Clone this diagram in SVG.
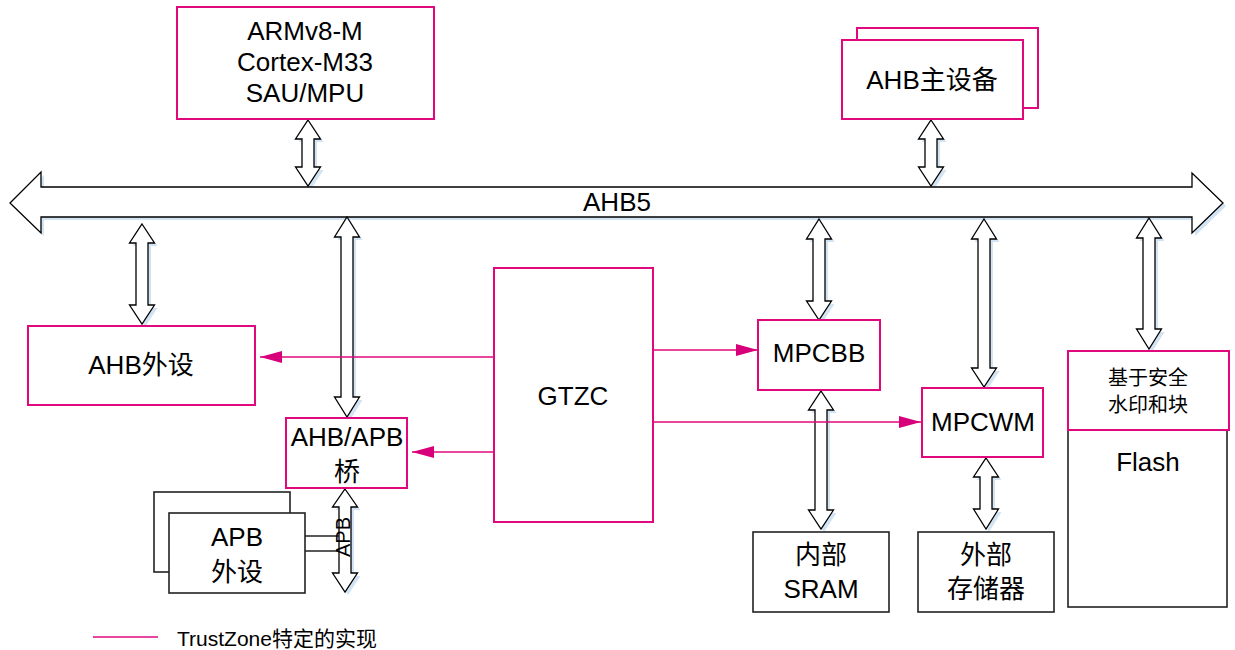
<svg xmlns="http://www.w3.org/2000/svg" xmlns:xlink="http://www.w3.org/1999/xlink" width="1235" height="650" viewBox="0 0 1235 650">
<style>
.t{font-family:"Liberation Sans","Noto Sans CJK SC",Arial,sans-serif;font-size:26px;fill:#000;text-anchor:middle}
.s{font-size:20px}
.pk{fill:#fff;stroke:#e0087c;stroke-width:2}
.bk{fill:#fff;stroke:#222;stroke-width:1.6}
.ln{stroke:#e0087c;stroke-width:1.3;fill:none}
.ar{fill:#fff;stroke:#000;stroke-width:1.3;stroke-linejoin:miter}
.sh{fill:#d2e3f3;stroke:none}
</style>
<defs>
<marker id="mk" markerUnits="userSpaceOnUse" markerWidth="22" markerHeight="12" refX="22" refY="6" orient="auto">
<path d="M0,0 L22,6 L0,12 Z" fill="#d8007a"/>
</marker>
<path id="bus" d="M10,203 L41,172 L41,187 L1192,187 L1192,173 L1223,203 L1192,233 L1192,217 L41,217 L41,233 Z"/>
<path id="a1" d="M308,120 L320.5,139 L314,139 L314,167 L320.5,167 L308,186 L295.5,167 L302,167 L302,139 L295.5,139 Z"/>
<path id="a2" d="M931,120 L943.5,139 L937,139 L937,167 L943.5,167 L931,186 L918.5,167 L925,167 L925,139 L918.5,139 Z"/>
<path id="a3" d="M142,224 L154.5,243 L148,243 L148,305 L154.5,305 L142,324 L129.5,305 L136,305 L136,243 L129.5,243 Z"/>
<path id="a4" d="M347,217 L359.5,237 L353,237 L353,397 L359.5,397 L347,417 L334.5,397 L341,397 L341,237 L334.5,237 Z"/>
<path id="a5" d="M819,219 L831.5,239 L825,239 L825,301 L831.5,301 L819,320 L806.5,301 L813,301 L813,239 L806.5,239 Z"/>
<path id="a6" d="M984,219 L996.5,239 L990,239 L990,368 L996.5,368 L984,387 L971.5,368 L978,368 L978,239 L971.5,239 Z"/>
<path id="a7" d="M1149,218 L1161.5,238 L1155,238 L1155,329 L1161.5,329 L1149,349 L1136.5,329 L1143,329 L1143,238 L1136.5,238 Z"/>
<path id="a8" d="M821,391 L833.5,410 L827,410 L827,510 L833.5,510 L821,529 L808.5,510 L815,510 L815,410 L808.5,410 Z"/>
<path id="a9" d="M986,458 L998.5,477 L992,477 L992,509 L998.5,509 L986,529 L973.5,509 L980,509 L980,477 L973.5,477 Z"/>
<path id="a10" d="M345,489 L357.5,507 L351,507 L351,573 L357.5,573 L345,592 L332.5,573 L339,573 L339,507 L332.5,507 Z"/>
</defs>
<rect width="1235" height="650" fill="#fff"/>

<g id="connectors">
<g id="shadows" transform="translate(3,3)" fill="#d2e3f3">
<use xlink:href="#bus"/><use xlink:href="#a1"/><use xlink:href="#a2"/><use xlink:href="#a3"/><use xlink:href="#a4"/><use xlink:href="#a5"/><use xlink:href="#a6"/><use xlink:href="#a7"/><use xlink:href="#a8"/><use xlink:href="#a9"/><use xlink:href="#a10"/>
</g>
<g id="bus-arrows" fill="#fff" stroke="#000" stroke-width="1.3">
<use id="ahb5" xlink:href="#bus"/>
<use xlink:href="#a1"/><use xlink:href="#a2"/><use xlink:href="#a3"/><use xlink:href="#a4"/><use xlink:href="#a5"/><use xlink:href="#a6"/><use xlink:href="#a7"/><use xlink:href="#a8"/><use xlink:href="#a9"/><use xlink:href="#a10"/>
</g>
<text class="t" x="617" y="211">AHB5</text>
<g id="pink-links">
<path class="ln" d="M494,357 L260,357" marker-end="url(#mk)"/>
<path class="ln" d="M494,452 L412,452" marker-end="url(#mk)"/>
<path class="ln" d="M653,350 L758,350" marker-end="url(#mk)"/>
<path class="ln" d="M653,422 L921,422" marker-end="url(#mk)"/>
</g>
<g id="apb-links" stroke="#222" stroke-width="1.3">
<line x1="305" y1="536" x2="339" y2="536"/>
<line x1="305" y1="551" x2="339" y2="551"/>
</g>
<text class="t s" transform="translate(350,537) rotate(-90)">APB</text>
</g>

<g id="cpu">
<rect class="pk" x="177" y="7" width="257" height="112"/>
<text class="t" x="305" y="40">ARMv8-M</text>
<text class="t" x="305" y="71">Cortex-M33</text>
<text class="t" x="305" y="102">SAU/MPU</text>
</g>

<g id="ahb-master">
<rect class="pk" x="857" y="28" width="181" height="80"/>
<rect class="pk" x="842" y="40" width="181" height="79"/>
<text class="t" x="932" y="89">AHB主设备</text>
</g>

<g id="ahb-periph">
<rect class="pk" x="28" y="326" width="227" height="79"/>
<text class="t" x="141" y="374">AHB外设</text>
</g>

<g id="bridge">
<rect class="pk" x="286" y="418" width="121" height="70"/>
<text class="t" x="347" y="446">AHB/APB</text>
<text class="t" x="347" y="481">桥</text>
</g>

<g id="apb-periph">
<rect class="bk" x="154" y="492" width="136" height="80"/>
<rect class="bk" x="169" y="513" width="136" height="80"/>
<text class="t" x="237" y="546">APB</text>
<text class="t" x="237" y="581">外设</text>
</g>

<g id="gtzc">
<rect class="pk" x="494" y="268" width="159" height="254"/>
<text class="t" x="573" y="405">GTZC</text>
</g>

<g id="mpcbb">
<rect class="pk" x="758" y="320" width="122" height="70"/>
<text class="t" x="819" y="362">MPCBB</text>
</g>

<g id="mpcwm">
<rect class="pk" x="922" y="388" width="121" height="69"/>
<text class="t" x="983" y="431">MPCWM</text>
</g>

<g id="sram">
<rect class="bk" x="753" y="532" width="136" height="80"/>
<text class="t" x="821" y="564">内部</text>
<text class="t" x="821" y="598">SRAM</text>
</g>

<g id="ext-mem">
<rect class="bk" x="918" y="532" width="136" height="80"/>
<text class="t" x="986" y="564">外部</text>
<text class="t" x="986" y="598">存储器</text>
</g>

<g id="flash">
<rect class="bk" x="1068" y="351" width="159" height="256"/>
<rect class="pk" x="1068" y="351" width="161" height="79"/>
<text class="t s" x="1148" y="385">基于安全</text>
<text class="t s" x="1148" y="412">水印和块</text>
<text class="t" x="1148" y="471">Flash</text>
</g>

<g id="legend">
<line x1="93" y1="637" x2="158" y2="637" stroke="#e0087c" stroke-width="1.5"/>
<text class="t" style="font-size:21px;text-anchor:start" x="177" y="646">TrustZone特定的实现</text>
</g>
</svg>
